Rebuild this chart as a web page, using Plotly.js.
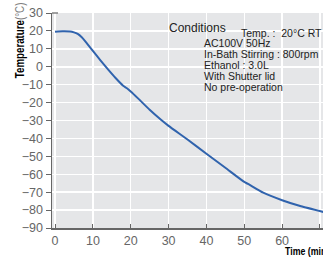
<!DOCTYPE html>
<html>
<head>
<meta charset="utf-8">
<script src="https://cdn.plot.ly/plotly-3.0.1.min.js"></script>
<style>html,body{margin:0;padding:0;background:#fff;}#chart{width:323px;height:258px;}</style>
</head>
<body>
<div id="chart"></div>
<script>
// Data
var timeMin = [0, 2, 4, 5, 6, 7, 8, 9, 10, 12, 14, 16, 18, 19, 20, 22, 25, 28, 30, 35, 40, 45, 50, 51, 55, 60, 65, 71];
var tempC   = [19.6, 19.8, 19.7, 19.2, 18.3, 16.6, 14.2, 11.5, 8.8, 3.6, -1.5, -6.3, -10.6, -12.0, -13.8, -17.8, -24.0, -29.6, -33.0, -40.6, -48.6, -56.4, -64.3, -65.4, -70.3, -74.5, -77.9, -81.1];
var xTicks = [0, 10, 20, 30, 40, 50, 60, 70];
var yTicks = [30, 20, 10, 0, -10, -20, -30, -40, -50, -60, -70, -80, -90];
var conditionLines = ["AC100V 50Hz", "In-Bath Stirring : 800rpm", "Ethanol : 3.0L", "With Shutter lid", "No pre-operation"];

var L = 52, T = 13, W = 271, H = 215;
function PX(px){ return (px - L) / W; }
function PY(py){ return (T + H - py) / H; }

var bg = '#e5e6e8';
var sans = 'Liberation Sans, Arial, Helvetica, sans-serif';

var trace = {
  x: timeMin, y: tempC, type: 'scatter', mode: 'lines',
  line: {color: '#3063ad', width: 2, shape: 'spline', smoothing: 0.5},
  hoverinfo: 'skip'
};

var annotations = [
  {text: '<b>Temperature</b><span style="color:#808080">(°C)</span>', textangle: -90,
   xref: 'paper', yref: 'paper', x: PX(20), y: PY(41), xanchor: 'center', yanchor: 'middle',
   showarrow: false, font: {family: sans, size: 12.5, color: '#000'}},
  {text: '<b>Time (min)</b>', xref: 'paper', yref: 'paper', x: PX(283), y: PY(251),
   xanchor: 'left', yanchor: 'middle', showarrow: false, font: {family: sans, size: 11, color: '#000'}},
  {text: 'Conditions', xref: 'paper', yref: 'paper', x: PX(167), y: PY(28),
   xanchor: 'left', yanchor: 'middle', showarrow: false, font: {family: sans, size: 12, color: '#222'}},
  {text: 'Temp. :  20°C RT', xref: 'paper', yref: 'paper', x: PX(239), y: PY(32.5),
   xanchor: 'left', yanchor: 'middle', showarrow: false, font: {family: sans, size: 10.5, color: '#222'}}
];
var lineY = [42.5, 53.5, 64.5, 75.5, 86.5];
conditionLines.forEach(function(t, i){
  annotations.push({text: t, xref: 'paper', yref: 'paper', x: PX(202), y: PY(lineY[i]),
    xanchor: 'left', yanchor: 'middle', showarrow: false, font: {family: sans, size: 10.5, color: '#222'}});
});

var shapes = [
  {type: 'rect', xref: 'paper', yref: 'paper', x0: PX(150), x1: 1, y0: PY(40), y1: PY(16), layer: 'between', fillcolor: bg, line: {width: 0}},
  {type: 'rect', xref: 'paper', yref: 'paper', x0: PX(167), x1: 1, y0: PY(58), y1: PY(39), layer: 'between', fillcolor: bg, line: {width: 0}},
  {type: 'rect', xref: 'paper', yref: 'paper', x0: PX(199), x1: 1, y0: PY(118), y1: PY(57), layer: 'between', fillcolor: bg, line: {width: 0}},
  {type: 'line', xref: 'paper', yref: 'paper', x0: 0, x1: PX(58), y0: 1, y1: 1, line: {color: '#666', width: 1.2}}
];

var layout = {
  width: 323, height: 258,
  margin: {l: L, r: 0, t: T, b: 258 - T - H, pad: 0},
  paper_bgcolor: '#fff', plot_bgcolor: bg,
  showlegend: false,
  xaxis: {
    range: [-0.8, 70.8], tickvals: xTicks, ticktext: xTicks.map(String),
    showgrid: true, gridcolor: '#fff', gridwidth: 1.5, zeroline: false,
    showline: true, linecolor: '#666', linewidth: 1.5,
    ticks: 'inside', ticklen: 4, tickcolor: '#666', tickwidth: 1,
    tickfont: {family: sans, size: 12.5, color: '#666'}
  },
  yaxis: {
    range: [-90, 30], tickvals: yTicks,
    ticktext: yTicks.map(function(v){ return v < 0 ? '\u2212' + Math.abs(v) : String(v); }),
    showgrid: true, gridcolor: '#fff', gridwidth: 1.5, zeroline: false,
    showline: true, linecolor: '#666', linewidth: 1.5,
    ticks: 'outside', ticklen: 5, tickcolor: '#666', tickwidth: 1,
    tickfont: {family: sans, size: 12.5, color: '#666'}
  },
  annotations: annotations,
  shapes: shapes
};

function squeeze(el, s, anchor){
  if (!el) return;
  var b = el.getBBox();
  var cx = anchor === 'left' ? b.x : b.x + b.width / 2;
  var prev = el.getAttribute('transform') || '';
  el.setAttribute('transform', prev + ' translate(' + cx + ',0) scale(' + s + ',1) translate(' + (-cx) + ',0)');
}

Plotly.newPlot('chart', [trace], layout, {staticPlot: true, displayModeBar: false}).then(function(){
  var texts = document.querySelectorAll('#chart .annotation-text');
  squeeze(texts[0], 0.78, 'center');
  squeeze(texts[1], 0.8, 'left');
});
</script>
</body>
</html>
